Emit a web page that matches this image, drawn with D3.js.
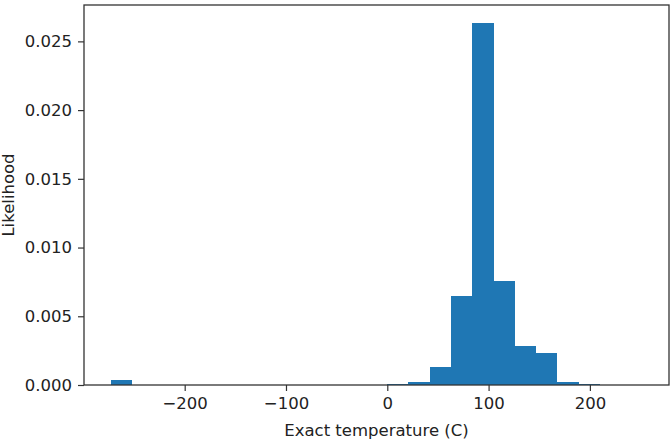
<!DOCTYPE html>
<html>
<head>
<meta charset="utf-8">
<script src="https://cdn.jsdelivr.net/npm/d3@7"></script>
<style>
  html, body { margin: 0; padding: 0; background: #fff; }
  svg { display: block; }
  text { font-family: "DejaVu Sans", sans-serif; fill: #222; }
</style>
</head>
<body>
<svg id="chart" width="670" height="442"></svg>
<script>
// Histogram bin edges (°C) and density per bin
const binEdges = [-273.15, -252.15, -231.15, -210.15, -189.15, -168.15, -147.15, -126.15,
  -105.15, -84.15, -63.15, -42.15, -21.15, -0.15, 20.85, 41.85, 62.85, 83.85, 104.85,
  125.85, 146.85, 167.85, 188.85, 209.85, 230.85, 251.85];
const densities = [0.00037, 0, 0, 0, 0, 0, 0, 0, 0, 0, 0, 0, 0, 0.00008, 0.00024, 0.00133,
  0.00647, 0.02633, 0.00758, 0.00281, 0.00230, 0.00022, 0.00005, 0, 0];
const xTicks = [-200, -100, 0, 100, 200];
const yTicks = [0, 0.005, 0.010, 0.015, 0.020, 0.025];
const xLabel = "Exact temperature (C)";
const yLabel = "Likelihood";

const bins = densities.map((d, i) => ({ x0: binEdges[i], x1: binEdges[i + 1], d }));

const svg = d3.select("#chart");
const L = 84, R = 669, T = 5, B = 385;

const xMin = binEdges[0], xMax = binEdges[binEdges.length - 1];
const xPad = (xMax - xMin) * 0.05;
const yMax = d3.max(densities) * 1.05;

const x = d3.scaleLinear().domain([xMin - xPad, xMax + xPad]).range([L, R]);
const y = d3.scaleLinear().domain([0, yMax]).range([B, T]);

// bars
svg.append("g").selectAll("rect")
  .data(bins.filter(b => b.d > 0))
  .join("rect")
  .attr("x", b => x(b.x0))
  .attr("width", b => x(b.x1) - x(b.x0))
  .attr("y", b => y(b.d))
  .attr("height", b => y(0) - y(b.d))
  .attr("fill", "#1f77b4")
  .attr("shape-rendering", "crispEdges");

// axes
const fs = 16.5;
const xAxis = svg.append("g")
  .attr("transform", `translate(0,${B})`)
  .call(d3.axisBottom(x).tickValues(xTicks).tickSize(6).tickPadding(6).tickFormat(d3.format("d")));
const yAxis = svg.append("g")
  .attr("transform", `translate(${L},0)`)
  .call(d3.axisLeft(y).tickValues(yTicks).tickSize(6).tickPadding(6).tickFormat(d3.format(".3f")));

[xAxis, yAxis].forEach(g => {
  g.select(".domain").remove();
  g.selectAll(".tick line").attr("stroke", "#333").attr("stroke-width", 1.2);
  g.selectAll(".tick text")
    .style("font-family", "DejaVu Sans, sans-serif")
    .style("font-size", fs + "px")
    .attr("fill", "#222");
});

// frame
svg.append("rect")
  .attr("x", L).attr("y", T)
  .attr("width", R - L).attr("height", B - T)
  .attr("fill", "none")
  .attr("stroke", "#333")
  .attr("stroke-width", 1.3);

// labels
svg.append("text")
  .attr("x", (L + R) / 2).attr("y", 436)
  .attr("text-anchor", "middle")
  .style("font-size", fs + "px")
  .text(xLabel);

svg.append("text")
  .attr("transform", `translate(13.5,${(T + B) / 2}) rotate(-90)`)
  .attr("text-anchor", "middle")
  .style("font-size", fs + "px")
  .text(yLabel);
</script>
</body>
</html>
